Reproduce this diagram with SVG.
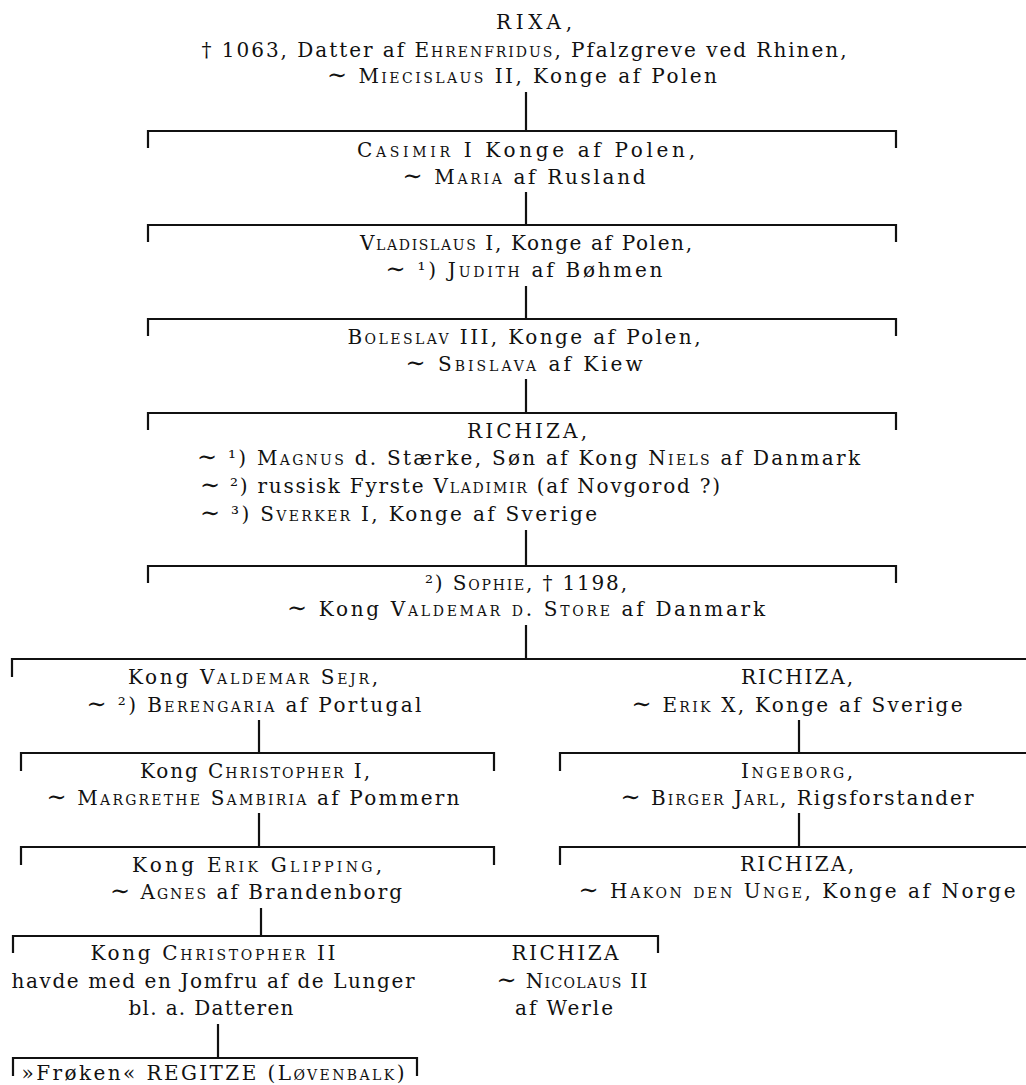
<svg xmlns="http://www.w3.org/2000/svg" width="1026" height="1085" viewBox="0 0 1026 1085">
<style>
text { font-family: "DejaVu Serif", "Liberation Serif", serif; font-size: 20px; fill: #111; text-anchor: middle; }
.s { text-anchor: start; }
.sc { font-variant: small-caps; }
.t { font-size: 24px; }
.ln { stroke: #111; stroke-width: 2.2; fill: none; }
</style>
<rect width="1026" height="1085" fill="#fff"/>
<g id="connectors" class="ln">
<path d="M526,92 V131"/>
<path d="M148,148 V131 H896 V148"/>
<path d="M526,192 V225"/>
<path d="M148,242 V225 H896 V242"/>
<path d="M526,286 V319"/>
<path d="M148,336 V319 H896 V336"/>
<path d="M526,379 V413"/>
<path d="M148,430 V413 H896 V430"/>
<path d="M526,530 V566"/>
<path d="M148,583 V566 H896 V583"/>
<path d="M526,625 V659"/>
<path d="M12,677 V659 H1026"/>
<path d="M259,720 V753"/>
<path d="M799,720 V753"/>
<path d="M21,771 V753 H494 V771"/>
<path d="M560,771 V753 H1026"/>
<path d="M259,813 V847"/>
<path d="M799,813 V847"/>
<path d="M21,865 V847 H494 V865"/>
<path d="M560,865 V847 H1026"/>
<path d="M261,908 V936"/>
<path d="M13,953 V936 H658 V953"/>
<path d="M218,1024 V1058"/>
<path d="M13,1076 V1058 H417 V1076"/>
</g>
<g id="rixa">
<text x="534" y="29" textLength="76" lengthAdjust="spacing">RIXA,</text>
<text x="524" y="57" textLength="645" lengthAdjust="spacing">† 1063, Datter af <tspan class="sc">Ehrenfridus</tspan>, Pfalzgreve ved Rhinen,</text>
<text x="522" y="83" textLength="390" lengthAdjust="spacing"><tspan class="t">∼</tspan> <tspan class="sc">Miecislaus</tspan> II, Konge af Polen</text>
</g>
<g id="casimir">
<text x="526" y="157" textLength="338" lengthAdjust="spacing"><tspan class="sc">Casimir</tspan> I Konge af Polen,</text>
<text x="524" y="184" textLength="243" lengthAdjust="spacing"><tspan class="t">∼</tspan> <tspan class="sc">Maria</tspan> af Rusland</text>
</g>
<g id="vladislaus">
<text x="526" y="250" textLength="332" lengthAdjust="spacing"><tspan class="sc">Vladislaus</tspan> I, Konge af Polen,</text>
<text x="524" y="277" textLength="277" lengthAdjust="spacing"><tspan class="t">∼</tspan> ¹) <tspan class="sc">Judith</tspan> af Bøhmen</text>
</g>
<g id="boleslav">
<text x="524" y="344" textLength="353" lengthAdjust="spacing"><tspan class="sc">Boleslav</tspan> III, Konge af Polen,</text>
<text x="524" y="371" textLength="237" lengthAdjust="spacing"><tspan class="t">∼</tspan> <tspan class="sc">Sbislava</tspan> af Kiew</text>
</g>
<g id="richiza1">
<text x="527" y="438" textLength="120" lengthAdjust="spacing">RICHIZA,</text>
<text class="s" x="197" y="465" textLength="663" lengthAdjust="spacing"><tspan class="t">∼</tspan> ¹) <tspan class="sc">Magnus</tspan> d. Stærke, Søn af Kong <tspan class="sc">Niels</tspan> af Danmark</text>
<text class="s" x="200" y="493" textLength="520" lengthAdjust="spacing"><tspan class="t">∼</tspan> ²) russisk Fyrste <tspan class="sc">Vladimir</tspan> (af Novgorod ?)</text>
<text class="s" x="200" y="521" textLength="397" lengthAdjust="spacing"><tspan class="t">∼</tspan> ³) <tspan class="sc">Sverker</tspan> I, Konge af Sverige</text>
</g>
<g id="sophie">
<text x="526" y="590" textLength="202" lengthAdjust="spacing">²) <tspan class="sc">Sophie</tspan>, † 1198,</text>
<text x="526" y="616" textLength="478" lengthAdjust="spacing"><tspan class="t">∼</tspan> Kong <tspan class="sc">Valdemar d. Store</tspan> af Danmark</text>
</g>
<g id="valdemar-sejr">
<text x="253" y="684" textLength="250" lengthAdjust="spacing">Kong <tspan class="sc">Valdemar Sejr</tspan>,</text>
<text x="254" y="712" textLength="335" lengthAdjust="spacing"><tspan class="t">∼</tspan> ²) <tspan class="sc">Berengaria</tspan> af Portugal</text>
</g>
<g id="christopher1">
<text x="255" y="778" textLength="230" lengthAdjust="spacing">Kong <tspan class="sc">Christopher</tspan> I,</text>
<text x="253" y="805" textLength="413" lengthAdjust="spacing"><tspan class="t">∼</tspan> <tspan class="sc">Margrethe Sambiria</tspan> af Pommern</text>
</g>
<g id="erik-glipping">
<text x="257" y="872" textLength="250" lengthAdjust="spacing">Kong <tspan class="sc">Erik Glipping</tspan>,</text>
<text x="256" y="899" textLength="292" lengthAdjust="spacing"><tspan class="t">∼</tspan> <tspan class="sc">Agnes</tspan> af Brandenborg</text>
</g>
<g id="richiza2">
<text x="797" y="684" textLength="112" lengthAdjust="spacing">RICHIZA,</text>
<text x="797" y="712" textLength="331" lengthAdjust="spacing"><tspan class="t">∼</tspan> <tspan class="sc">Erik</tspan> X, Konge af Sverige</text>
</g>
<g id="ingeborg">
<text x="797" y="778" textLength="112" lengthAdjust="spacing"><tspan class="sc">Ingeborg</tspan>,</text>
<text x="797" y="805" textLength="353" lengthAdjust="spacing"><tspan class="t">∼</tspan> <tspan class="sc">Birger Jarl</tspan>, Rigsforstander</text>
</g>
<g id="richiza3">
<text x="797" y="871" textLength="114" lengthAdjust="spacing">RICHIZA,</text>
<text x="797" y="898" textLength="437" lengthAdjust="spacing"><tspan class="t">∼</tspan> <tspan class="sc">Hakon den Unge</tspan>, Konge af Norge</text>
</g>
<g id="christopher2">
<text x="213" y="960" textLength="245" lengthAdjust="spacing">Kong <tspan class="sc">Christopher</tspan> II</text>
<text x="213" y="988" textLength="403" lengthAdjust="spacing">havde med en Jomfru af de Lunger</text>
<text x="211" y="1015" textLength="165" lengthAdjust="spacing">bl. a. Datteren</text>
</g>
<g id="richiza4">
<text x="565" y="960" textLength="107" lengthAdjust="spacing">RICHIZA</text>
<text x="572" y="988" textLength="151" lengthAdjust="spacing"><tspan class="t">∼</tspan> <tspan class="sc">Nicolaus</tspan> II</text>
<text x="564" y="1015" textLength="98" lengthAdjust="spacing">af Werle</text>
</g>
<g id="regitze">
<text x="213" y="1080" textLength="383" lengthAdjust="spacing">»Frøken« REGITZE (<tspan class="sc">Løvenbalk</tspan>)</text>
</g>
</svg>
